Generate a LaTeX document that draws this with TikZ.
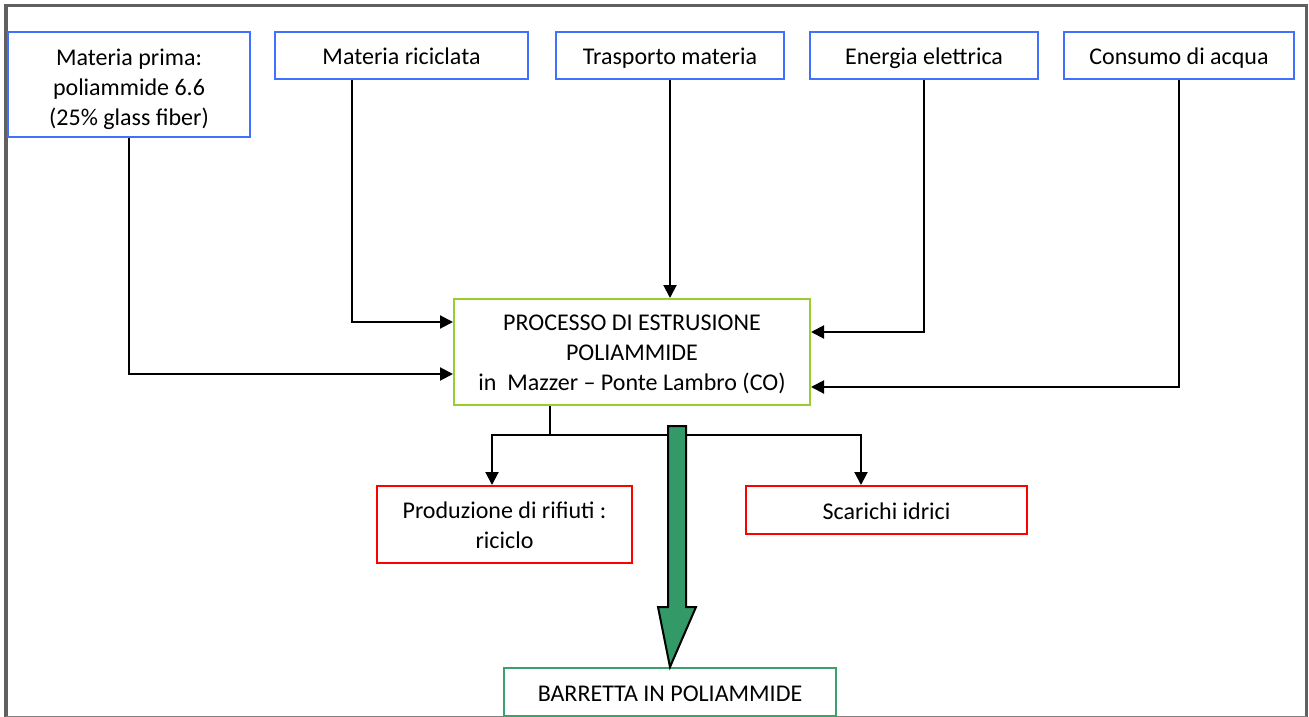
\documentclass[tikz,border=0pt]{standalone}
\usepackage{fontspec}
\setmainfont{Carlito}
\usetikzlibrary{arrows.meta}
\definecolor{inblue}{RGB}{64,112,255}
\definecolor{procgreen}{RGB}{154,205,50}
\definecolor{outred}{RGB}{255,0,0}
\definecolor{prodgreen}{RGB}{60,160,110}
\definecolor{flowgreen}{RGB}{51,153,102}
\definecolor{framegray}{RGB}{96,96,96}
\begin{document}
\begin{tikzpicture}[x=1pt,y=-1pt,
  box/.style={draw, line width=2pt, fill=white, align=center, inner sep=0pt,
    font=\fontsize{24}{30}\selectfont},
  oneline/.style={text height=20pt, text depth=1.5pt},
  inbox/.style={box, draw=inblue},
  procbox/.style={box, draw=procgreen},
  outbox/.style={box, draw=outred},
  prodbox/.style={box, draw=prodgreen},
  conn/.style={line width=2pt, -{Triangle[length=13pt,width=13pt]}},
  plain/.style={line width=2pt},
]
\useasboundingbox (0,0) rectangle (1309,717);
% outer frame
\draw[framegray, line width=3.5pt] (6,720) -- (6,5.5) -- (1306.5,5.5) -- (1306.5,720);
\draw[gray, line width=1.2pt] (6,716.4) -- (1306.5,716.4);

% inputs
\node[inbox, minimum width=242pt, minimum height=105pt] (prima) at (129,84.5)
  {\rule{0pt}{26pt}Materia prima:\\poliammide 6.6\\(25\% glass fiber)};
\node[inbox, oneline, minimum width=253pt, minimum height=47pt] (ricic) at (401.5,55.5) {Materia riciclata};
\node[inbox, oneline, minimum width=228pt, minimum height=47pt] (trasp) at (670,55.5) {Trasporto materia};
\node[inbox, oneline, minimum width=228pt, minimum height=47pt] (energia) at (924,55.5) {Energia elettrica};
\node[inbox, oneline, minimum width=230pt, minimum height=47pt] (acqua) at (1179,55.5) {Consumo di acqua};

% process
\node[procbox, minimum width=356pt, minimum height=106pt] (proc) at (632,352)
  {\rule{0pt}{21pt}PROCESSO DI ESTRUSIONE\\POLIAMMIDE\\in\ \ Mazzer – Ponte Lambro (CO)};

% outputs
\node[outbox, minimum width=255pt, minimum height=77pt] (rifiuti) at (504.5,524.5)
  {\rule{0pt}{19pt}Produzione di rifiuti :\\riciclo};
\node[outbox, oneline, minimum width=281pt, minimum height=48pt] (scarichi) at (886.5,510) {Scarichi idrici};
\node[prodbox, oneline, minimum width=332pt, minimum height=48pt] (barretta) at (670,692) {BARRETTA IN POLIAMMIDE};

% input connectors
\draw[conn] (prima.south) |- ([yshift=-22pt]proc.west);
\draw[conn] ([xshift=-50pt]ricic.south) |- ([yshift=30pt]proc.west);
\draw[conn] (trasp.south) -- (trasp.south |- proc.north);
\draw[conn] (energia.south) |- ([yshift=20pt]proc.east);
\draw[conn] (acqua.south) |- ([yshift=-35pt]proc.east);

% output connectors
\coordinate (split) at (550,435);
\coordinate (splitL) at (492,435);
\coordinate (splitR) at (861,435);
\draw[plain] (proc.south -| split) -- (split);
\draw[conn] (split) -- (splitL) -- (splitL |- rifiuti.north);
\draw[conn] (split) -- (splitR) -- (splitR |- scarichi.north);

% main product flow
\draw[fill=flowgreen, line width=2pt, line join=miter]
  (668,426) -- (686,426) -- (686,607) -- (696,607) -- (barretta.north)
  -- (658,607) -- (668,607) -- cycle;
\end{tikzpicture}
\end{document}
